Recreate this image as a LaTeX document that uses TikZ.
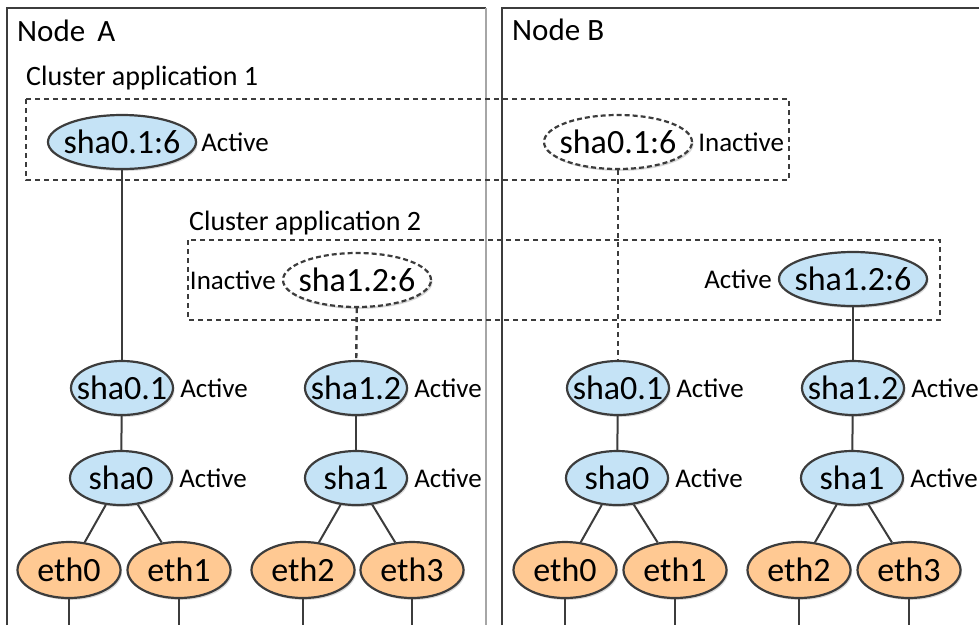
\documentclass[tikz,border=0pt]{standalone}
\usepackage{fontspec}
\setmainfont{Carlito}
\usetikzlibrary{shapes.geometric, positioning, shadows}
\definecolor{shablue}  {RGB}{197,227,246}
\definecolor{ethorange}{RGB}{255,201,147}
\definecolor{frameline}{RGB}{ 60, 60, 60}

\begin{document}
\begin{tikzpicture}[x=1pt, y=-1pt,
  ifnode/.style={ellipse, draw=frameline, line width=2.2pt, inner sep=0pt,
    minimum width=102pt, minimum height=54pt,
    font=\fontsize{34}{36}\selectfont,
    drop shadow={shadow xshift=1.5pt, shadow yshift=-2pt, opacity=0.3},
    execute at begin node={\hbox to 0pt\bgroup\hss},
    execute at end node={\hss\egroup}},
  sha/.style={ifnode, fill=shablue},
  eth/.style={ifnode, fill=ethorange, minimum width=103pt, minimum height=56pt},
  takeover/.style={sha, minimum width=148pt},
  standby/.style={takeover, fill=white, dash pattern=on 5pt off 3pt},
  st/.style={font=\fontsize{27}{28}\selectfont, inner sep=0pt},
  ttl/.style={font=\fontsize{31}{32}\selectfont, inner sep=0pt, anchor=base west},
  grp/.style={draw=frameline, line width=2.4pt, dash pattern=on 5pt off 4pt},
  wire/.style={draw=frameline, line width=2pt},
  vwire/.style={wire, line width=2.4pt, dash pattern=on 5pt off 4pt},
]
\useasboundingbox (0,0) rectangle (979,625);
%% Node frames
\draw[frameline, line width=2pt] (7,625) |- (486,8);
\draw[gray!70, line width=2.6pt] (486,8) -- (486,625);
\draw[frameline, line width=2pt] (502,625) |- (990,8);
\node[ttl] (titleA) at (17,41) {Node\, A};
\node[ttl] (titleB) at (512,40) {Node B};
%% Cluster applications
\node[ttl, font=\fontsize{28}{30}\selectfont] (app1) at (26,85) {Cluster application 1};
\draw[grp] (26,99) rectangle (789,180);
\node[ttl, font=\fontsize{28}{30}\selectfont] (app2) at (189,230) {Cluster application 2};
\draw[grp] (188,240) rectangle (940,320);
%% Takeover interfaces
\node[takeover] (A1) at (122,142) {sha0.1:6};
\node[st, right=4pt of A1] (A1s) {Active};
\node[standby] (B1) at (618,142) {sha0.1:6};
\node[st, right=5pt of B1] (B1s) {Inactive};
\node[standby] (A2) at (357,280) {sha1.2:6};
\node[st, left=6pt of A2] (A2s) {Inactive};
\node[takeover] (B2) at (853,279) {sha1.2:6};
\node[st, left=6pt of B2] (B2s) {Active};
%% Virtual interfaces
\node[sha] (A3) at (122,388) {sha0.1};
\node[st, right=6pt of A3] (A3s) {Active};
\node[sha] (A4) at (356,388) {sha1.2};
\node[st, right=6pt of A4] (A4s) {Active};
\node[sha] (B3) at (618,388) {sha0.1};
\node[st, right=6pt of B3] (B3s) {Active};
\node[sha] (B4) at (853,388) {sha1.2};
\node[st, right=6pt of B4] (B4s) {Active};
\node[sha] (A5) at (121,478) {sha0};
\node[st, right=6pt of A5] (A5s) {Active};
\node[sha] (A6) at (356,478) {sha1};
\node[st, right=6pt of A6] (A6s) {Active};
\node[sha] (B5) at (617,478) {sha0};
\node[st, right=6pt of B5] (B5s) {Active};
\node[sha] (B6) at (852,478) {sha1};
\node[st, right=6pt of B6] (B6s) {Active};
%% Physical interfaces
\foreach \nm/\x/\txt in {Ae0/69/eth0, Ae1/179/eth1, Ae2/303/eth2, Ae3/412/eth3,
                        Be0/565/eth0, Be1/675/eth1, Be2/799/eth2, Be3/909/eth3}{
  \node[eth] (\nm) at (\x,570) {\txt};
  \coordinate (\nm-end) at (\x,625);
  \draw[wire] (\nm) -- (\nm-end);
}
%% Connections
\draw[wire]  (A1) -- (A3);
\draw[vwire] (B1) -- (B3);
\draw[vwire] (A2) -- (A4);
\draw[wire]  (B2) -- (B4);
\draw[wire] (A3) -- (A5);
\draw[wire] (A4) -- (A6);
\draw[wire] (B3) -- (B5);
\draw[wire] (B4) -- (B6);
\draw[wire] (A5) -- (Ae0);
\draw[wire] (A5) -- (Ae1);
\draw[wire] (A6) -- (Ae2);
\draw[wire] (A6) -- (Ae3);
\draw[wire] (B5) -- (Be0);
\draw[wire] (B5) -- (Be1);
\draw[wire] (B6) -- (Be2);
\draw[wire] (B6) -- (Be3);
\end{tikzpicture}
\end{document}
